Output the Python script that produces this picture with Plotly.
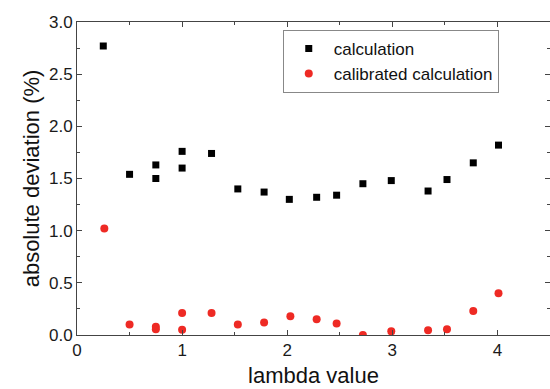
import plotly.graph_objects as go

calc_x = [0.25, 0.5, 0.75, 0.75, 1.0, 1.0, 1.28, 1.53, 1.78, 2.02, 2.28, 2.47, 2.72, 2.99, 3.34, 3.52, 3.77, 4.01]
calc_y = [2.77, 1.54, 1.63, 1.50, 1.76, 1.60, 1.74, 1.40, 1.37, 1.30, 1.32, 1.34, 1.45, 1.48, 1.38, 1.49, 1.65, 1.82]

cal_x = [0.26, 0.5, 0.75, 0.75, 1.0, 1.0, 1.28, 1.53, 1.78, 2.03, 2.28, 2.47, 2.72, 2.99, 3.34, 3.52, 3.77, 4.01]
cal_y = [1.02, 0.10, 0.08, 0.055, 0.21, 0.05, 0.21, 0.10, 0.12, 0.18, 0.15, 0.11, 0.00, 0.035, 0.045, 0.055, 0.23, 0.40]

FONT = "Liberation Sans, Arial"

fig = go.Figure()
fig.add_trace(go.Scatter(x=calc_x, y=calc_y, mode="markers", name="calculation",
                         marker=dict(symbol="square", size=7, color="#000000")))
fig.add_trace(go.Scatter(x=cal_x, y=cal_y, mode="markers", name="calibrated calculation",
                         marker=dict(symbol="circle", size=8, color="#ee2a24")))

axis_common = dict(showgrid=False, zeroline=False, showline=True, linecolor="#444444", linewidth=1,
                   mirror="allticks", ticks="inside", ticklen=5, tickcolor="#444444",
                   tickfont=dict(family=FONT, size=17, color="#1a1a1a"))

fig.update_layout(
    width=550, height=389,
    margin=dict(l=77, r=0, t=22, b=54),
    paper_bgcolor="white", plot_bgcolor="white",
    showlegend=True,
    legend=dict(x=0.435, y=0.975, xanchor="left", yanchor="top",
                bgcolor="white", bordercolor="#888888", borderwidth=1,
                font=dict(family=FONT, size=17, color="#111111"),
                itemwidth=40, tracegroupgap=0),
    xaxis=dict(range=[0, 4.5], tickvals=[0, 1, 2, 3, 4], ticktext=["0", "1", "2", "3", "4"],
               minor=dict(dtick=0.5, tick0=0, ticks="inside", ticklen=3, tickcolor="#444444"),
               title=dict(text="lambda value", font=dict(family=FONT, size=22, color="#111111"),
                          standoff=8),
               **axis_common),
    yaxis=dict(range=[0, 3.0], tickvals=[0, 0.5, 1.0, 1.5, 2.0, 2.5, 3.0],
               ticktext=["0.0", "0.5", "1.0", "1.5", "2.0", "2.5", "3.0"],
               minor=dict(dtick=0.25, tick0=0, ticks="inside", ticklen=3, tickcolor="#444444"),
               title=dict(text="absolute deviation (%)", font=dict(family=FONT, size=22, color="#111111"),
                          standoff=3),
               **axis_common),
)

fig.write_html("out.html")
